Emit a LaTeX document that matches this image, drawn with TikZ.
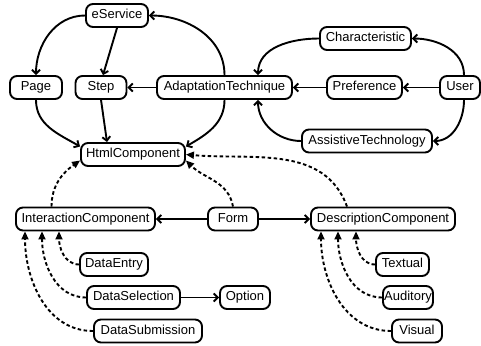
\documentclass[tikz,border=0pt]{standalone}
\usepackage{fontspec}
\setmainfont{Liberation Sans}
\usetikzlibrary{arrows.meta}
\begin{document}
\begin{tikzpicture}[x=1pt,y=1pt,
  box/.style={draw, line width=1.9pt, rounded corners=7pt, minimum height=23pt, inner sep=1pt,
    font=\fontsize{13}{15}\selectfont, text height=9.3pt, text depth=2.7pt},
  sol/.style={line width=1.9pt, -{Straight Barb[length=4pt,width=8pt]}},
  dsh/.style={line width=1.9pt, dash pattern=on 3.5pt off 2.5pt, -{Triangle[length=8pt,width=7pt]}}]
\useasboundingbox (0,0) rectangle (481,-345);
\node[box, minimum width=62pt] (es) at (117,-15.5) {eService};
\node[box, minimum width=52pt] (pg) at (36,-87.5) {Page};
\node[box, minimum width=51pt] (st) at (101,-87.5) {Step};
\node[box, minimum width=135pt] (at) at (224.5,-87.5) {AdaptationTechnique};
\node[box, minimum width=75pt] (pr) at (364.5,-87.5) {Preference};
\node[box, minimum width=40pt] (us) at (460,-87.5) {User};
\node[box, minimum width=91pt] (ch) at (365.5,-38.5) {Characteristic};
\node[box, minimum width=130pt] (as) at (367,-141) {AssistiveTechnology};
\node[box, minimum width=104pt] (hc) at (133,-154.5) {HtmlComponent};
\node[box, minimum width=139pt] (ic) at (85.5,-219) {InteractionComponent};
\node[box, minimum width=50pt] (fm) at (233,-219) {Form};
\node[box, minimum width=144pt] (dc) at (383,-219) {DescriptionComponent};
\node[box, minimum width=68pt] (de) at (114,-264.5) {DataEntry};
\node[box, minimum width=93pt] (ds) at (133.5,-297.5) {DataSelection};
\node[box, minimum width=50pt] (op) at (245,-297.5) {Option};
\node[box, minimum width=108pt] (dsub) at (148,-331) {DataSubmission};
\node[box, minimum width=53pt] (tx) at (402.5,-264.5) {Textual};
\node[box, minimum width=50pt] (au) at (408,-297.5) {Auditory};
\node[box, minimum width=50pt] (vi) at (417,-331) {Visual};
% solid
\draw[sol] (es.west) to[out=180,in=90] (pg.north);
\draw[sol] (es.south) -- ([xshift=2pt]st.north);
\draw[sol] (at.north) to[out=90,in=0] (es.east);
\draw[sol] (at.west) -- (st.east);
\draw[sol] (pg.south) to[out=-90,in=150] ([yshift=8pt]hc.west);
\draw[sol] (st.south) -- ([xshift=-26pt]hc.north);
\draw[sol] (at.south) to[out=-90,in=30] ([yshift=8pt]hc.east);
\draw[sol] (ch.west) to[out=180,in=90] ([xshift=33.5pt]at.north);
\draw[sol] ([xshift=4pt]us.north) to[out=90,in=0] (ch.east);
\draw[sol] (pr.west) -- (at.east);
\draw[sol] (us.west) -- (pr.east);
\draw[sol] ([xshift=4pt]us.south) to[out=-90,in=0] (as.east);
\draw[sol] (as.west) to[out=180,in=-90] ([xshift=33.5pt]at.south);
\draw[sol] (fm.west) -- (ic.east);
\draw[sol] (fm.east) -- (dc.west);
\draw[sol] (ds.east) -- (op.west);
% dashed
\draw[dsh] ([xshift=-34pt]ic.north) to[out=90,in=215] ([yshift=-6pt]hc.west);
\draw[dsh] (fm.north) to[out=100,in=-45] ([yshift=-6pt]hc.east);
\draw[dsh] ([xshift=-36pt]dc.north) to[out=110,in=-5] (hc.east);
\draw[dsh] (de.west) to[out=180,in=-90] ([xshift=-26.5pt]ic.south);
\draw[dsh] (ds.west) to[out=180,in=-90] ([xshift=-43.5pt]ic.south);
\draw[dsh] (dsub.west) to[out=180,in=-90] ([xshift=-60.5pt]ic.south);
\draw[dsh] (tx.west) to[out=180,in=-90] ([xshift=-27pt]dc.south);
\draw[dsh] (au.west) to[out=180,in=-90] ([xshift=-45pt]dc.south);
\draw[dsh] (vi.west) to[out=180,in=-90] ([xshift=-62pt]dc.south);
\end{tikzpicture}
\end{document}
